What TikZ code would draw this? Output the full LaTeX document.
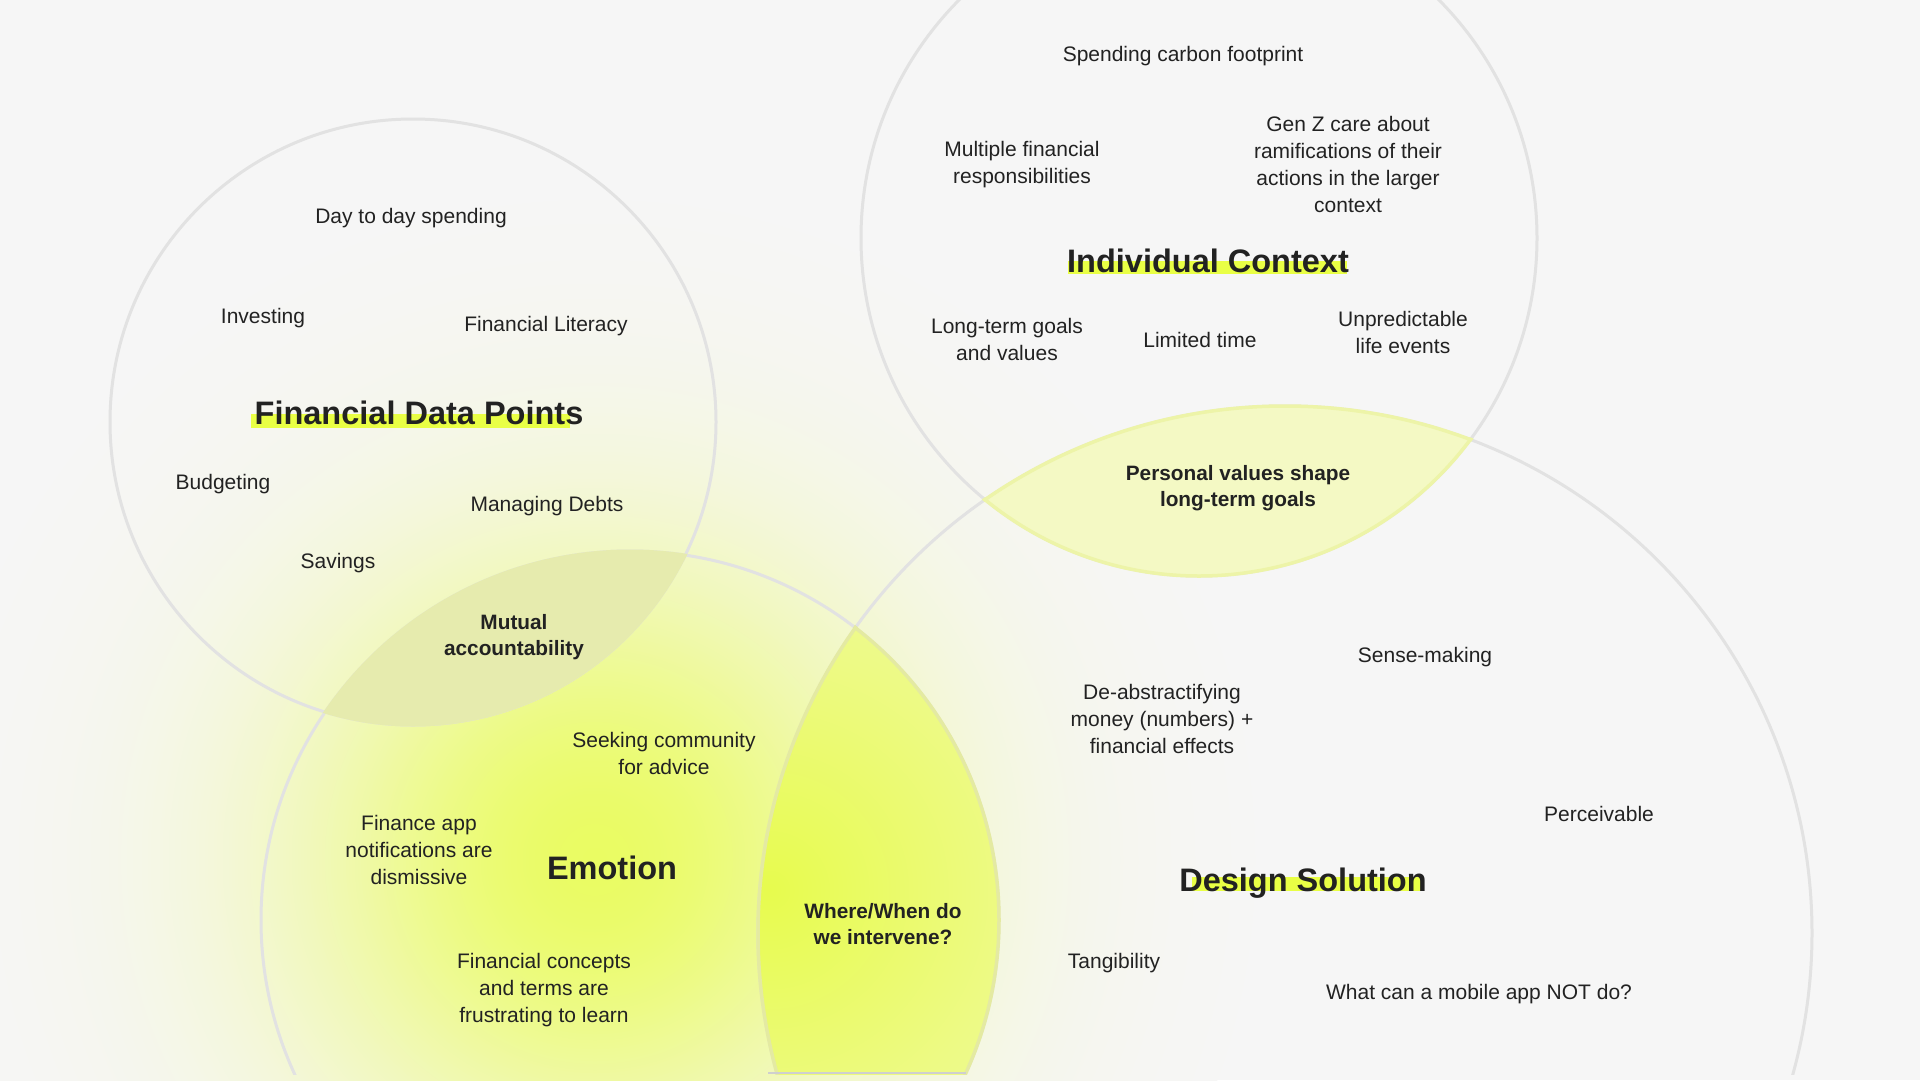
\documentclass[tikz,border=0pt]{standalone}
\usepackage{fontspec}
\setmainfont{Liberation Sans}
\usetikzlibrary{calc}
\definecolor{bgc}{HTML}{F6F6F6}
\definecolor{ringc}{HTML}{E2E2E2}
\definecolor{txt}{HTML}{222222}
\definecolor{hl}{HTML}{E9FF45}
\definecolor{gA}{HTML}{E9FC5A}
\definecolor{lA}{HTML}{E7FB4E}
\definecolor{lB}{HTML}{EDFA84}
\definecolor{lC}{HTML}{F2F8B8}
\pgfdeclareradialshading{lensglow}{\pgfpoint{0bp}{0bp}}{color(0bp)=(lA); color(18bp)=(lB); color(40bp)=(lC); color(50bp)=(lC)}
\definecolor{mutualc}{HTML}{E6EBAE}
\definecolor{pvfill}{HTML}{F4F9C4}
\definecolor{pvline}{HTML}{EDF4A8}
\definecolor{wwline}{HTML}{E4EAA2}
\definecolor{edgec}{HTML}{CFCFCF}
\pgfdeclarelayer{back}
\pgfsetlayers{back,main}
\begin{document}
\begin{tikzpicture}[x=1pt,y=-1pt,
  item/.style={text=txt,align=center,inner sep=0pt,font=\fontsize{21}{27}\selectfont},
  lenslabel/.style={text=txt,align=center,inner sep=0pt,font=\fontsize{20.8}{26.5}\selectfont\bfseries},
  heading/.style={text=txt,inner sep=0pt,font=\fontsize{32.5}{39}\selectfont\bfseries},
  ring/.style={draw=ringc,line width=3pt},
  hlbar/.style={fill=hl}]
\useasboundingbox (0,0) rectangle (1920,1080);
\coordinate (c1) at (413,422);
\coordinate (c2) at (1199,238);
\coordinate (c3) at (630,920);
\coordinate (c4) at (1285,933);
\coordinate (gc) at (595,860);
\coordinate (lc) at (770,890);
\coordinate (wwbl) at (768,1073);
\coordinate (wwbr) at (966,1073);

\begin{pgfonlayer}{back}
\fill[bgc] (0,0) rectangle (1920,1080);
\begin{scope}
  \clip (0,0) rectangle (1920,1080);
  \foreach \r in {660,657,...,3} {
    \pgfmathsetmacro{\p}{94*exp(-1*((\r/300)^2))}
    \fill[gA!\p!bgc] (gc) circle (\r pt);
  }
\end{scope}
\begin{scope}
  \clip (0,0) rectangle (1920,1074);
  \draw[ring] (c1) circle (303pt);
  \draw[ring] (c2) circle (338pt);
  \draw[ring] (c3) circle (369pt);
  \draw[ring] (c4) circle (527pt);
  % mutual lens
  \begin{scope}
    \clip (c1) circle (304.5pt);
    \fill[mutualc] (c3) circle (370.5pt);
  \end{scope}
  % personal values lens
  \begin{scope}
    \clip (c2) circle (338pt);
    \fill[pvfill] (c4) circle (527pt);
  \end{scope}
  \begin{scope}
    \clip (c2) circle (340pt);
    \draw[pvline,line width=3.5pt] (c4) circle (527pt);
  \end{scope}
  \begin{scope}
    \clip (c4) circle (529pt);
    \draw[pvline,line width=3.5pt] (c2) circle (338pt);
  \end{scope}
  % where/when lens
  \begin{scope}
    \clip (c3) circle (369pt);
    \clip (c4) circle (527pt);
    \shade[shading=lensglow] (lc) circle (330pt);
  \end{scope}
  \begin{scope}
    \clip (c3) circle (371pt);
    \draw[wwline,line width=3.5pt] (c4) circle (527pt);
  \end{scope}
  \begin{scope}
    \clip (c4) circle (529pt);
    \draw[wwline,line width=3.5pt] (c3) circle (369pt);
  \end{scope}
\end{scope}
\draw[edgec,line width=1.5pt] (wwbl) -- (wwbr);
\end{pgfonlayer}

% Financial Data Points
\node[item] (dds) at (411,218) {Day to day spending};
\node[item] (inv) at (263,318) {Investing};
\node[item] (flit) at (546,326) {Financial Literacy};
\node[heading] (fdp) at (419,413) {Financial Data Points};
\node[item] (bud) at (223,484) {Budgeting};
\node[item] (mdebt) at (547,506) {Managing Debts};
\node[item] (sav) at (338,563) {Savings};
\node[lenslabel] (mut) at (514,637) {Mutual\\accountability};

% Individual Context
\node[item] (scf) at (1183,56) {Spending carbon footprint};
\node[item] (mfr) at (1022,165) {Multiple financial\\responsibilities};
\node[item] (genz) at (1348,164) {Gen Z care about\\ramifications of their\\actions in the larger\\context};
\node[heading] (ic) at (1208,261) {Individual Context};
\node[item] (ltg) at (1007,339) {Long-term goals\\and values};
\node[item] (lt) at (1200,340) {Limited time};
\node[item] (ule) at (1403,332) {Unpredictable\\life events};
\node[lenslabel] (pv) at (1238,488) {Personal values shape\\long-term goals};

% Emotion
\node[item] (sca) at (664,753) {Seeking community\\for advice};
\node[item] (fan) at (419,850) {Finance app\\notifications are\\dismissive};
\node[heading] (emo) at (612,868) {Emotion};
\node[item] (fct) at (544,990) {Financial concepts\\and terms are\\frustrating to learn};
\node[lenslabel] (ww) at (883,924) {Where/When do\\we intervene?};

% Design Solution
\node[item] (sm) at (1425,657) {Sense-making};
\node[item] (dam) at (1162,719) {De-abstractifying\\money (numbers) +\\financial effects};
\node[item] (perc) at (1599,814) {Perceivable};
\node[heading] (ds) at (1303,883) {Design Solution};
\node[item] (tang) at (1114,963) {Tangibility};
\node[item] (mob) at (1479,994) {What can a mobile app NOT do?};

\begin{pgfonlayer}{back}
\fill[hlbar] ([xshift=-3pt,yshift=-3pt]fdp.base west) rectangle ([xshift=-14pt,yshift=11pt]fdp.base east);
\fill[hlbar] ([xshift=1pt,yshift=-1pt]ic.base west) rectangle ([xshift=-2pt,yshift=12pt]ic.base east);
\fill[hlbar] ([xshift=13pt,yshift=0pt]ds.base west) rectangle ([xshift=-4pt,yshift=14pt]ds.base east);
\end{pgfonlayer}
\end{tikzpicture}
\end{document}
